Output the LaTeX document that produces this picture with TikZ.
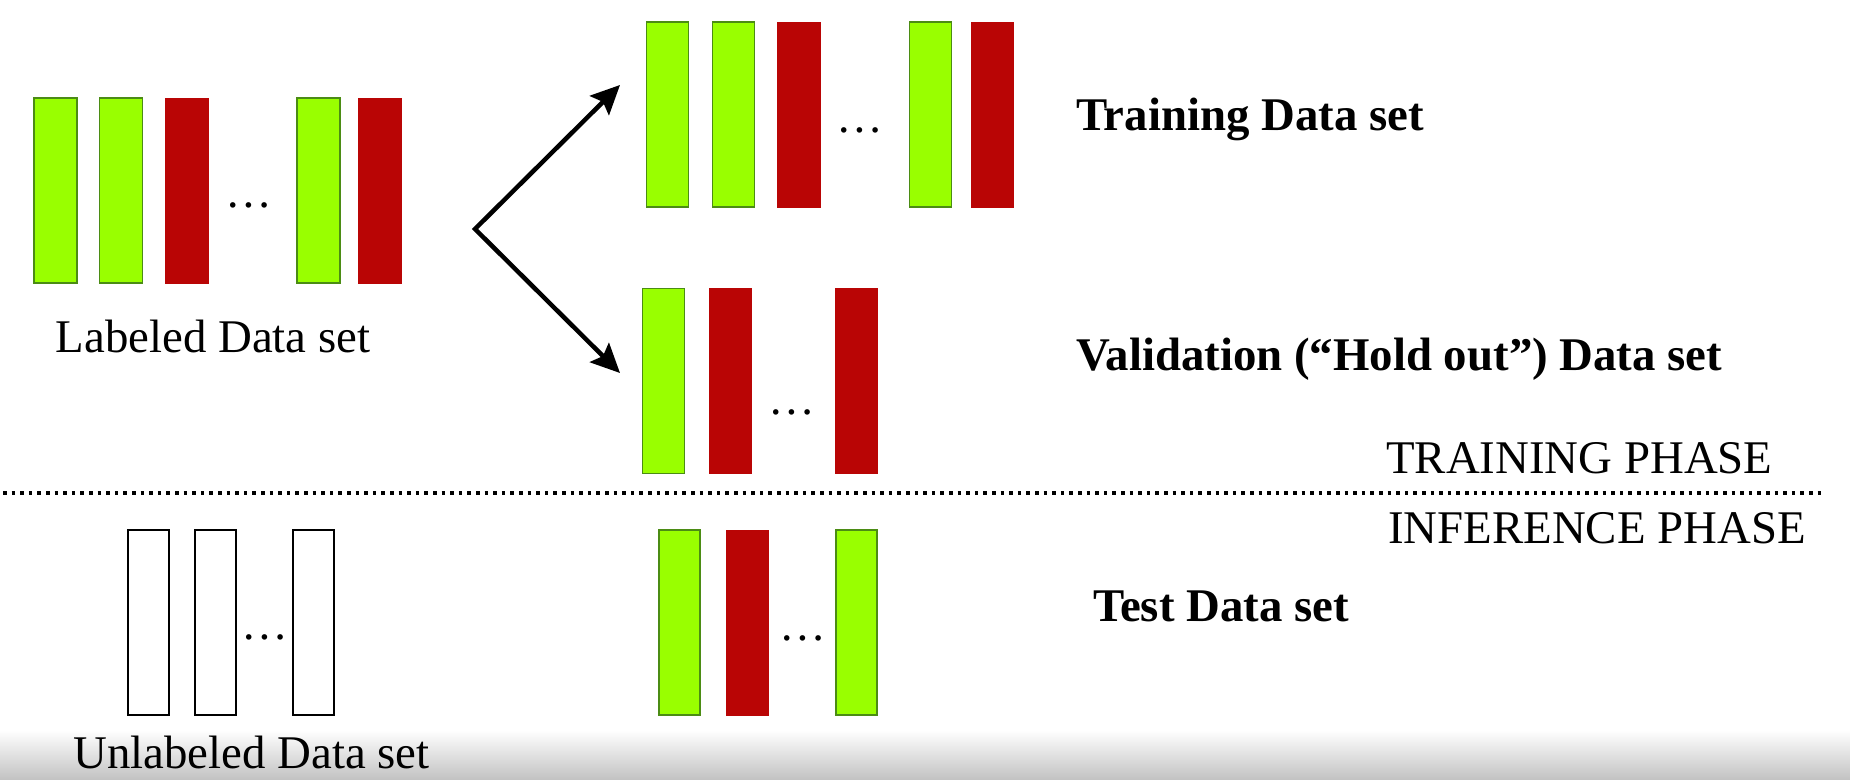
\documentclass[tikz,border=0pt]{standalone}
\usepackage{fontspec}
\setmainfont{Liberation Serif}
\usepackage{tikz}
\usetikzlibrary{shapes,arrows.meta}

\definecolor{barGreen}{RGB}{153,255,0}
\definecolor{barGreenEdge}{RGB}{75,140,20}
\definecolor{barRed}{RGB}{185,5,5}

\newcommand{\plaintxt}{\fontsize{47}{56}\selectfont}
\newcommand{\boldtxt}{\fontsize{47}{56}\selectfont\bfseries}

\begin{document}
\begin{tikzpicture}[x=1bp, y=-1bp,
  every node/.style={inner sep=0pt},
  goodbar/.style={draw=barGreenEdge, fill=barGreen, line width=1.5bp, minimum height=185bp},
  badbar/.style={draw=barRed, fill=barRed, line width=1pt, minimum height=185bp},
  emptybar/.style={draw=black, fill=white, line width=2bp, minimum height=185bp},
  dotsnode/.style={anchor=base, font=\plaintxt},
  >={Stealth[length=29bp, width=27bp, inset=5bp]}]
  \useasboundingbox (0,0) rectangle (1850,780);
  \shade[top color=white, bottom color=black!24] (0,730) rectangle (1850,780);

  % Labeled data set
  \node[goodbar, minimum width=43bp] (lab1) at (55.5,190.5) {};
  \node[goodbar, minimum width=43bp] (lab2) at (121,190.5) {};
  \node[badbar, minimum width=43bp] (lab3) at (186.5,190.5) {};
  \node[dotsnode] (labdots) at (248.5,207) {…};
  \node[goodbar, minimum width=43bp] (lab4) at (318.5,190.5) {};
  \node[badbar, minimum width=43bp] (lab5) at (379.5,190.5) {};
  \node[anchor=base, font=\plaintxt] (labtxt) at (213,352) {Labeled Data set};

  % Training data set
  \node[goodbar, minimum width=42bp] (train1) at (667.3,114.5) {};
  \node[goodbar, minimum width=42bp] (train2) at (733.5,114.5) {};
  \node[badbar, minimum width=43bp] (train3) at (799.2,114.5) {};
  \node[dotsnode] (traindots) at (860.3,132) {…};
  \node[goodbar, minimum width=42bp] (train4) at (930.6,114.5) {};
  \node[badbar, minimum width=42bp] (train5) at (992.4,114.5) {};
  \node[anchor=base west, font=\boldtxt] (traintxt) at (1076,130) {Training Data set};

  % Validation data set
  \node[goodbar, minimum width=42bp] (val1) at (663.3,381) {};
  \node[badbar, minimum width=42bp] (val2) at (730,381) {};
  \node[dotsnode] (valdots) at (791.5,414) {…};
  \node[badbar, minimum width=42bp] (val3) at (856.6,381) {};
  \node[anchor=base west, font=\boldtxt] (valtxt) at (1076,370) {Validation (“Hold out”) Data set};

  % Split arrows
  \coordinate (split) at (475,229);
  \coordinate (totrain) at (620,85);
  \coordinate (toval) at (620,373);
  \draw[<->, line width=4.5bp, line join=miter] (totrain) -- (split) -- (toval);

  % Phase separator
  \coordinate (sepl) at (3,493);
  \coordinate (sepr) at (1824,493);
  \draw[line width=3.5bp, dash pattern=on 3.5bp off 5.1bp] (sepl) -- (sepr);
  \node[anchor=base west, font=\plaintxt] (trainphase) at (1386,473) {TRAINING PHASE};
  \node[anchor=base west, font=\plaintxt] (infphase) at (1388,543) {INFERENCE PHASE};

  % Unlabeled data set
  \node[emptybar, minimum width=41bp] (unl1) at (148.5,622.5) {};
  \node[emptybar, minimum width=41bp] (unl2) at (215,622.5) {};
  \node[dotsnode] (unldots) at (265,639) {…};
  \node[emptybar, minimum width=41bp] (unl3) at (313.5,622.5) {};
  \node[anchor=base, font=\plaintxt] (unltxt) at (251.5,768) {Unlabeled Data set};

  % Test data set
  \node[goodbar, minimum width=41bp] (test1) at (679.3,622.5) {};
  \node[badbar, minimum width=42bp] (test2) at (747.5,622.5) {};
  \node[dotsnode] (testdots) at (803,640) {…};
  \node[goodbar, minimum width=41bp] (test3) at (856.3,622.5) {};
  \node[anchor=base west, font=\boldtxt] (testtxt) at (1093,621) {Test Data set};
\end{tikzpicture}
\end{document}
